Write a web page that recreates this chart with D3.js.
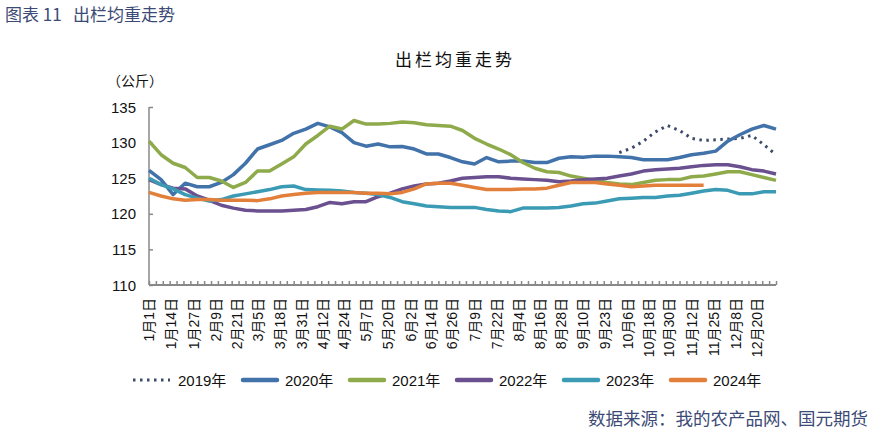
<!DOCTYPE html>
<html>
<head>
<meta charset="utf-8">
<script src="https://cdn.jsdelivr.net/npm/d3@7/dist/d3.min.js"></script>
<style>
  body { margin: 0; background: #fff; }
  svg text { font-family: "Liberation Sans", Arial, "Noto Sans CJK SC", sans-serif; }
  .cjk { font-family: "Noto Sans CJK SC", sans-serif; }
</style>
</head>
<body>
<svg id="chart" width="874" height="431"></svg>
<script>
// weekly observations, index i = week number from 1月1日 (day 7*i)
const weeks = d3.range(53)

const tickLabels = ["1月1日","1月14日","1月27日","2月9日","2月21日","3月5日","3月18日","3月31日",
  "4月12日","4月24日","5月7日","5月20日","6月2日","6月14日","6月26日","7月9日","7月22日",
  "8月4日","8月16日","8月28日","9月10日","9月23日","10月6日","10月18日","10月30日",
  "11月12日","11月25日","12月8日","12月20日"]

const years = ["2019年","2020年","2021年","2022年","2023年","2024年"]
const colors = ["#3d4b6b","#4272aa","#8eaa4b","#6b5090","#3b9bb4","#e2803b"]

const s2019 = [null,null,null,null,null,null,null,null,null,null,null,null,null,null,null,null,null,null,null,null,
  null,null,null,null,null,null,null,null,null,null,null,null,null,null,null,null,null,null,null,
  128.6,129.2,130.2,131.5,132.4,131.7,130.6,130.3,130.4,130.5,130.6,131.0,129.7,128.3]
const s2020 = [126.1,124.8,122.7,124.3,123.8,123.8,124.4,125.5,127.1,129.1,129.7,130.3,131.3,131.9,132.7,132.2,
  131.4,130.0,129.5,129.8,129.4,129.45,129.1,128.4,128.4,127.9,127.3,127.0,127.9,127.3,127.4,127.4,127.2,
  127.2,127.8,128.0,127.95,128.1,128.1,128.0,127.9,127.6,127.6,127.6,127.9,128.3,128.5,128.8,130.2,131.1,
  131.9,132.4,131.9]
const s2021 = [130.2,128.3,127.1,126.5,125.1,125.1,124.6,123.7,124.4,126.0,126.0,127.0,128.0,129.8,131.0,132.3,
  131.9,133.1,132.6,132.6,132.7,132.9,132.8,132.5,132.4,132.3,131.7,130.6,129.8,129.1,128.3,127.2,126.4,
  125.9,125.8,125.3,125.0,124.7,124.4,124.2,124.1,124.4,124.7,124.8,124.8,125.2,125.3,125.6,125.9,125.9,
  125.5,125.1,124.7]
const s2022 = [124.8,124.1,123.6,123.5,122.5,121.9,121.2,120.8,120.5,120.4,120.4,120.4,120.5,120.6,121.0,121.6,
  121.4,121.7,121.7,122.4,122.9,123.5,123.9,124.2,124.3,124.6,125.0,125.1,125.2,125.2,125.0,124.9,124.8,
  124.7,124.5,124.6,124.8,124.9,125.0,125.3,125.6,126.0,126.2,126.3,126.4,126.6,126.8,126.9,126.9,126.6,
  126.2,126.0,125.6]
const s2023 = [125.0,124.1,123.5,122.7,122.2,121.8,122.0,122.5,122.8,123.1,123.4,123.8,123.9,123.4,123.35,123.3,
  123.2,123.0,122.9,122.7,122.3,121.7,121.4,121.1,121.0,120.9,120.9,120.9,120.6,120.4,120.3,120.8,120.8,
  120.8,120.9,121.1,121.4,121.5,121.8,122.1,122.2,122.3,122.3,122.5,122.6,122.9,123.2,123.4,123.3,122.8,
  122.8,123.1,123.1]
const s2024 = [123.0,122.5,122.1,121.9,122.0,122.0,121.9,121.9,121.9,121.85,122.1,122.5,122.7,122.9,123.0,123.0,
  123.0,123.0,122.9,122.9,122.8,123.0,123.5,124.2,124.3,124.3,124.0,123.7,123.4,123.4,123.4,123.5,123.5,
  123.6,124.0,124.4,124.4,124.4,124.2,124.0,123.8,123.9,124.0,124.0,124.0,124.0,124.0]

const seriesList = [s2019, s2020, s2021, s2022, s2023, s2024]

const svg = d3.select("#chart")
const year0 = new Date(2023, 0, 1)
const dayOf = s => {
  const m = s.match(/(\d+)月(\d+)日/)
  return d3.timeDay.count(year0, new Date(2023, +m[1] - 1, +m[2]))
}

const x = d3.scaleLinear().domain([0, 364]).range([149, 776])
const y = d3.scaleLinear().domain([110, 135]).range([285, 107])

// titles
svg.append("text").attr("class", "cjk").attr("x", 5).attr("y", 21)
  .attr("font-size", 17).attr("fill", "#3c4a76").text("图表 11\u00a0\u00a0\u00a0出栏均重走势")
svg.append("text").attr("class", "cjk").attr("x", 455).attr("y", 66)
  .attr("text-anchor", "middle").attr("font-size", 17).attr("letter-spacing", 3)
  .attr("fill", "#111").text("出栏均重走势")
svg.append("text").attr("class", "cjk").attr("x", 107).attr("y", 86)
  .attr("font-size", 14).attr("fill", "#111").text("（公斤）")
svg.append("text").attr("class", "cjk").attr("x", 868).attr("y", 425)
  .attr("text-anchor", "end").attr("font-size", 17.5).attr("fill", "#3c4a76")
  .text("数据来源：我的农产品网、国元期货")

// y axis
const yAxis = svg.append("g").attr("transform", "translate(149,0)")
  .call(d3.axisRight(y).tickValues(d3.range(110, 136, 5)).tickSize(4).tickFormat(""))
yAxis.select(".domain").attr("stroke", "#888").attr("stroke-width", 1.5).attr("d", `M0,${y(110)}V${y(135)}`)
yAxis.selectAll(".tick line").attr("stroke", "#888").attr("stroke-width", 1.5)
svg.append("g").selectAll("text").data(d3.range(110, 136, 5)).join("text")
  .attr("x", 136).attr("y", d => y(d) + 5.5).attr("text-anchor", "end")
  .attr("font-size", 15).attr("fill", "#111").text(d => d)

// x axis
const xAxis = svg.append("g").attr("transform", `translate(0,${y(110)})`)
  .call(d3.axisTop(x).tickValues(d3.range(0, 365, 4)).tickSize(4).tickFormat(""))
xAxis.select(".domain").attr("stroke", "#888").attr("stroke-width", 2).attr("d", `M${x(0)},0H${x(364)}`)
xAxis.selectAll(".tick line").attr("stroke", "#888").attr("stroke-width", 1.5)

svg.append("g").selectAll("text").data(tickLabels).join("text")
  .attr("transform", d => `translate(${x(dayOf(d)) + 5},298) rotate(-90)`)
  .attr("text-anchor", "end").attr("font-size", 14).attr("fill", "#111").text(d => d)

// lines
const line = d3.line()
  .defined(d => d[1] != null)
  .x(d => x(d[0] * 7))
  .y(d => y(d[1]))

seriesList.forEach((s, k) => {
  const pts = s.map((v, i) => [weeks[i], v])
  svg.append("path").datum(pts)
    .attr("fill", "none")
    .attr("stroke", colors[k])
    .attr("stroke-width", k === 0 ? 3 : 3.5)
    .attr("stroke-linejoin", "round")
    .attr("stroke-dasharray", k === 0 ? "2.5,4.5" : null)
    .attr("d", line)
})

// legend
const legend = svg.append("g").attr("transform", "translate(133,380)")
const items = legend.selectAll("g").data(years).join("g")
  .attr("transform", (d, i) => `translate(${i * 107},0)`)
items.append("line").attr("x1", (d, i) => i === 0 ? 0 : 3).attr("x2", 37).attr("y1", 0).attr("y2", 0)
  .attr("stroke", (d, i) => colors[i]).attr("stroke-width", (d, i) => i === 0 ? 3 : 4.5)
  .attr("stroke-dasharray", (d, i) => i === 0 ? "2.5,4.5" : null)
  .attr("stroke-linecap", (d, i) => i === 0 ? "butt" : "round")
items.append("text").attr("x", 45).attr("y", 5.5).attr("font-size", 15).attr("fill", "#111").text(d => d)
</script>
</body>
</html>
